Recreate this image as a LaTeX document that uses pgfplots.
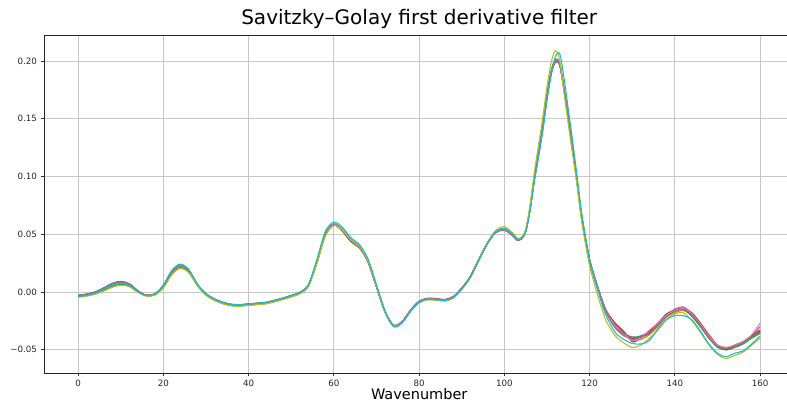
\documentclass[border=0pt]{standalone}
\usepackage{fontspec}
\setmainfont{DejaVu Sans}
\usepackage{pgfplots}
\usepackage{pgfplotstable}
\pgfplotsset{compat=1.18}

% tab10 colour cycle
\definecolor{C0}{HTML}{1F77B4}
\definecolor{C1}{HTML}{FF7F0E}
\definecolor{C2}{HTML}{2CA02C}
\definecolor{C3}{HTML}{D62728}
\definecolor{C4}{HTML}{9467BD}
\definecolor{C5}{HTML}{8C564B}
\definecolor{C6}{HTML}{E377C2}
\definecolor{C7}{HTML}{7F7F7F}
\definecolor{C8}{HTML}{BCBD22}
\definecolor{C9}{HTML}{17BECF}

% first-derivative spectra, one column per sample
\pgfplotstableread{
x a b c d e f g h i j
0 -0.0030 -0.0034 -0.0038 -0.0031 -0.0028 -0.0030 -0.0032 -0.0030 -0.0045 -0.0040
2 -0.0020 -0.0024 -0.0030 -0.0021 -0.0018 -0.0019 -0.0022 -0.0021 -0.0036 -0.0030
4 -0.0002 -0.0006 -0.0013 -0.0003 0.0001 0.0000 -0.0004 -0.0003 -0.0020 -0.0010
6 0.0032 0.0026 0.0016 0.0030 0.0036 0.0034 0.0030 0.0030 0.0008 0.0022
8 0.0070 0.0064 0.0050 0.0068 0.0075 0.0073 0.0068 0.0067 0.0040 0.0058
10 0.0086 0.0080 0.0066 0.0086 0.0092 0.0090 0.0085 0.0084 0.0058 0.0075
12 0.0068 0.0063 0.0052 0.0068 0.0073 0.0071 0.0067 0.0066 0.0046 0.0060
14 0.0010 0.0008 0.0002 0.0010 0.0012 0.0012 0.0009 0.0009 -0.0004 0.0005
16 -0.0030 -0.0030 -0.0032 -0.0028 -0.0028 -0.0027 -0.0029 -0.0030 -0.0035 -0.0032
18 -0.0018 -0.0020 -0.0024 -0.0018 -0.0016 -0.0017 -0.0019 -0.0019 -0.0028 -0.0016
20 0.0055 0.0050 0.0040 0.0052 0.0058 0.0056 0.0052 0.0050 0.0035 0.0058
22 0.0180 0.0172 0.0158 0.0176 0.0184 0.0180 0.0176 0.0173 0.0150 0.0188
24 0.0233 0.0226 0.0212 0.0230 0.0238 0.0234 0.0230 0.0227 0.0205 0.0242
26 0.0186 0.0181 0.0170 0.0184 0.0190 0.0187 0.0184 0.0182 0.0165 0.0193
28 0.0064 0.0061 0.0055 0.0063 0.0066 0.0064 0.0063 0.0062 0.0052 0.0067
30 -0.0017 -0.0022 -0.0026 -0.0018 -0.0014 -0.0016 -0.0020 -0.0023 -0.0028 -0.0015
32 -0.0062 -0.0067 -0.0071 -0.0063 -0.0059 -0.0061 -0.0065 -0.0068 -0.0073 -0.0060
34 -0.0092 -0.0097 -0.0101 -0.0093 -0.0089 -0.0091 -0.0095 -0.0098 -0.0103 -0.0090
36 -0.0109 -0.0114 -0.0118 -0.0110 -0.0106 -0.0108 -0.0112 -0.0115 -0.0120 -0.0107
38 -0.0112 -0.0117 -0.0121 -0.0113 -0.0109 -0.0111 -0.0115 -0.0118 -0.0123 -0.0110
40 -0.0105 -0.0110 -0.0114 -0.0106 -0.0102 -0.0104 -0.0108 -0.0111 -0.0116 -0.0103
42 -0.0099 -0.0104 -0.0108 -0.0100 -0.0096 -0.0098 -0.0102 -0.0105 -0.0110 -0.0097
44 -0.0092 -0.0097 -0.0101 -0.0093 -0.0089 -0.0091 -0.0095 -0.0098 -0.0103 -0.0090
46 -0.0075 -0.0080 -0.0084 -0.0076 -0.0072 -0.0074 -0.0078 -0.0081 -0.0086 -0.0073
48 -0.0055 -0.0060 -0.0064 -0.0056 -0.0052 -0.0054 -0.0058 -0.0061 -0.0066 -0.0053
50 -0.0032 -0.0037 -0.0041 -0.0033 -0.0029 -0.0031 -0.0035 -0.0038 -0.0043 -0.0030
52 -0.0005 -0.0010 -0.0014 -0.0006 -0.0002 -0.0004 -0.0008 -0.0011 -0.0016 -0.0003
54 0.0058 0.0053 0.0049 0.0057 0.0061 0.0059 0.0055 0.0052 0.0047 0.0062
56 0.0262 0.0256 0.0250 0.0258 0.0264 0.0260 0.0258 0.0255 0.0245 0.0280
58 0.0502 0.0496 0.0490 0.0498 0.0505 0.0495 0.0498 0.0494 0.0485 0.0525
60 0.0587 0.0582 0.0578 0.0584 0.0590 0.0580 0.0583 0.0581 0.0575 0.0605
62 0.0542 0.0536 0.0534 0.0532 0.0544 0.0526 0.0538 0.0535 0.0538 0.0560
64 0.0452 0.0446 0.0444 0.0438 0.0454 0.0435 0.0448 0.0445 0.0450 0.0470
66 0.0397 0.0391 0.0389 0.0385 0.0399 0.0382 0.0393 0.0390 0.0394 0.0410
68 0.0272 0.0267 0.0265 0.0262 0.0275 0.0260 0.0270 0.0266 0.0270 0.0288
70 0.0052 0.0048 0.0046 0.0046 0.0055 0.0044 0.0050 0.0047 0.0048 0.0062
72 -0.0168 -0.0172 -0.0174 -0.0171 -0.0165 -0.0172 -0.0170 -0.0173 -0.0175 -0.0165
74 -0.0288 -0.0292 -0.0294 -0.0290 -0.0285 -0.0289 -0.0290 -0.0293 -0.0296 -0.0300
76 -0.0257 -0.0262 -0.0265 -0.0259 -0.0255 -0.0257 -0.0260 -0.0263 -0.0266 -0.0268
78 -0.0157 -0.0162 -0.0165 -0.0159 -0.0155 -0.0157 -0.0160 -0.0163 -0.0166 -0.0166
80 -0.0082 -0.0087 -0.0091 -0.0083 -0.0079 -0.0081 -0.0085 -0.0088 -0.0093 -0.0088
82 -0.0057 -0.0062 -0.0066 -0.0058 -0.0054 -0.0056 -0.0060 -0.0063 -0.0068 -0.0062
84 -0.0060 -0.0065 -0.0069 -0.0061 -0.0057 -0.0059 -0.0063 -0.0066 -0.0071 -0.0066
86 -0.0067 -0.0072 -0.0076 -0.0068 -0.0064 -0.0066 -0.0070 -0.0073 -0.0078 -0.0073
88 -0.0042 -0.0047 -0.0051 -0.0043 -0.0039 -0.0041 -0.0045 -0.0048 -0.0053 -0.0047
90 0.0033 0.0028 0.0024 0.0032 0.0036 0.0034 0.0030 0.0027 0.0022 0.0028
92 0.0133 0.0128 0.0124 0.0132 0.0136 0.0134 0.0130 0.0127 0.0125 0.0128
94 0.0282 0.0278 0.0276 0.0281 0.0284 0.0282 0.0280 0.0278 0.0282 0.0278
96 0.0421 0.0419 0.0418 0.0420 0.0422 0.0420 0.0419 0.0418 0.0428 0.0420
98 0.0518 0.0521 0.0522 0.0516 0.0514 0.0515 0.0518 0.0522 0.0535 0.0522
100 0.0540 0.0546 0.0548 0.0538 0.0535 0.0536 0.0540 0.0546 0.0565 0.0550
102 0.0490 0.0496 0.0498 0.0488 0.0486 0.0487 0.0490 0.0496 0.0510 0.0500
103 0.0452 0.0456 0.0458 0.0450 0.0448 0.0449 0.0452 0.0456 0.0466 0.0458
104 0.0463 0.0466 0.0467 0.0461 0.0460 0.0460 0.0463 0.0466 0.0475 0.0462
105 0.0528 0.0531 0.0532 0.0526 0.0525 0.0525 0.0528 0.0531 0.0545 0.0522
106 0.0715 0.0720 0.0722 0.0712 0.0710 0.0711 0.0715 0.0720 0.0750 0.0700
107 0.0975 0.0982 0.0985 0.0970 0.0966 0.0968 0.0975 0.0982 0.1030 0.0950
108 0.1195 0.1203 0.1206 0.1188 0.1184 0.1186 0.1195 0.1203 0.1270 0.1165
109 0.1425 0.1434 0.1438 0.1418 0.1412 0.1415 0.1425 0.1434 0.1510 0.1390
110 0.1695 0.1704 0.1708 0.1688 0.1682 0.1685 0.1695 0.1704 0.1780 0.1660
111 0.1905 0.1912 0.1915 0.1898 0.1893 0.1896 0.1905 0.1912 0.1990 0.1880
112 0.2012 0.2015 0.2018 0.1995 0.1990 0.1992 0.2005 0.2012 0.2090 0.2040
113 0.1975 0.1972 0.1970 0.1965 0.1962 0.1963 0.1968 0.1972 0.2000 0.2060
114 0.1755 0.1748 0.1745 0.1752 0.1756 0.1754 0.1752 0.1748 0.1720 0.1850
115 0.1505 0.1497 0.1494 0.1504 0.1508 0.1506 0.1502 0.1497 0.1450 0.1580
116 0.1245 0.1237 0.1233 0.1245 0.1250 0.1248 0.1243 0.1237 0.1190 0.1310
117 0.0975 0.0967 0.0963 0.0976 0.0981 0.0978 0.0973 0.0967 0.0930 0.1020
118 0.0685 0.0677 0.0673 0.0686 0.0690 0.0688 0.0683 0.0677 0.0640 0.0720
119 0.0464 0.0457 0.0454 0.0466 0.0470 0.0468 0.0463 0.0457 0.0420 0.0480
120 0.0274 0.0267 0.0264 0.0276 0.0280 0.0278 0.0273 0.0267 0.0225 0.0275
121 0.0144 0.0137 0.0134 0.0146 0.0150 0.0148 0.0143 0.0137 0.0085 0.0135
122 0.0024 0.0017 0.0014 0.0028 0.0032 0.0030 0.0024 0.0017 -0.0045 0.0005
123 -0.0086 -0.0093 -0.0096 -0.0080 -0.0078 -0.0080 -0.0085 -0.0093 -0.0160 -0.0115
124 -0.0177 -0.0185 -0.0186 -0.0168 -0.0170 -0.0170 -0.0176 -0.0184 -0.0260 -0.0215
126 -0.0300 -0.0310 -0.0290 -0.0270 -0.0300 -0.0280 -0.0290 -0.0310 -0.0380 -0.0350
128 -0.0370 -0.0380 -0.0360 -0.0340 -0.0370 -0.0350 -0.0360 -0.0360 -0.0440 -0.0410
130 -0.0410 -0.0400 -0.0390 -0.0430 -0.0410 -0.0400 -0.0420 -0.0390 -0.0480 -0.0445
132 -0.0390 -0.0410 -0.0380 -0.0400 -0.0380 -0.0390 -0.0400 -0.0390 -0.0460 -0.0450
134 -0.0350 -0.0370 -0.0340 -0.0340 -0.0350 -0.0360 -0.0330 -0.0350 -0.0400 -0.0420
136 -0.0290 -0.0300 -0.0270 -0.0270 -0.0290 -0.0280 -0.0270 -0.0290 -0.0330 -0.0320
138 -0.0210 -0.0220 -0.0190 -0.0210 -0.0200 -0.0190 -0.0200 -0.0210 -0.0240 -0.0240
140 -0.0160 -0.0180 -0.0160 -0.0150 -0.0150 -0.0160 -0.0160 -0.0170 -0.0190 -0.0205
142 -0.0150 -0.0160 -0.0150 -0.0140 -0.0130 -0.0150 -0.0140 -0.0150 -0.0180 -0.0205
144 -0.0200 -0.0210 -0.0210 -0.0180 -0.0190 -0.0200 -0.0190 -0.0200 -0.0250 -0.0240
146 -0.0290 -0.0300 -0.0300 -0.0270 -0.0290 -0.0290 -0.0280 -0.0290 -0.0350 -0.0340
148 -0.0390 -0.0400 -0.0400 -0.0370 -0.0390 -0.0390 -0.0380 -0.0400 -0.0460 -0.0450
150 -0.0470 -0.0460 -0.0480 -0.0460 -0.0470 -0.0470 -0.0460 -0.0470 -0.0540 -0.0530
152 -0.0490 -0.0480 -0.0500 -0.0500 -0.0490 -0.0490 -0.0480 -0.0490 -0.0575 -0.0560
154 -0.0470 -0.0470 -0.0480 -0.0470 -0.0460 -0.0460 -0.0460 -0.0470 -0.0550 -0.0530
156 -0.0440 -0.0440 -0.0450 -0.0440 -0.0430 -0.0430 -0.0430 -0.0440 -0.0520 -0.0510
158 -0.0390 -0.0390 -0.0400 -0.0380 -0.0380 -0.0380 -0.0370 -0.0390 -0.0460 -0.0450
160 -0.0350 -0.0340 -0.0360 -0.0330 -0.0300 -0.0340 -0.0270 -0.0350 -0.0400 -0.0380
}\sgdata

\begin{document}
\begin{tikzpicture}
\begin{axis}[
  at={(0,0)}, anchor=south west,
  scale only axis, width=743pt, height=338pt,
  xmin=-8, xmax=166.3, ymin=-0.0701, ymax=0.2225,
  xtick={0,20,40,60,80,100,120,140,160},
  xticklabels={0,20,40,60,80,100,120,140,160},
  ytick={-0.05,0,0.05,0.1,0.15,0.2},
  yticklabels={−0.05,0.00,0.05,0.10,0.15,0.20},
  xtick pos=bottom, ytick pos=left,
  tick align=outside,
  major tick length=3.5pt,
  tick style={black!80, line width=0.8pt},
  ticklabel style={font=\fontsize{8.7}{10}\selectfont, text=black!85},
  grid=major,
  major grid style={black!22, line width=0.9pt},
  axis line style={draw=none},
  clip mode=individual,
  title={Savitzky–Golay first derivative filter},
  title style={font=\fontsize{20}{24}\selectfont, at={(0.505,1)}, anchor=base, yshift=4pt},
  xlabel={Wavenumber},
  xlabel style={font=\fontsize{14.5}{17}\selectfont, at={(0.505,0)}, anchor=base, yshift=-27pt},
  every axis plot/.append style={line width=1.1pt, smooth, tension=0.5},
]
\addplot[C0] table[x=x, y=a] {\sgdata};
\addplot[C1] table[x=x, y=b] {\sgdata};
\addplot[C2] table[x=x, y=c] {\sgdata};
\addplot[C3] table[x=x, y=d] {\sgdata};
\addplot[C4] table[x=x, y=e] {\sgdata};
\addplot[C5] table[x=x, y=f] {\sgdata};
\addplot[C6] table[x=x, y=g] {\sgdata};
\addplot[C7] table[x=x, y=h] {\sgdata};
\addplot[C8] table[x=x, y=i] {\sgdata};
\addplot[C9] table[x=x, y=j] {\sgdata};
% frame: left, top and bottom spines
\draw[black!85, line width=0.9pt] (rel axis cs:1,1) -- (rel axis cs:0,1) -- (rel axis cs:0,0) -- (rel axis cs:1,0);
\end{axis}
\pgfresetboundingbox
\path (-44pt,-30pt) rectangle (743pt,373pt);
\end{tikzpicture}
\end{document}
